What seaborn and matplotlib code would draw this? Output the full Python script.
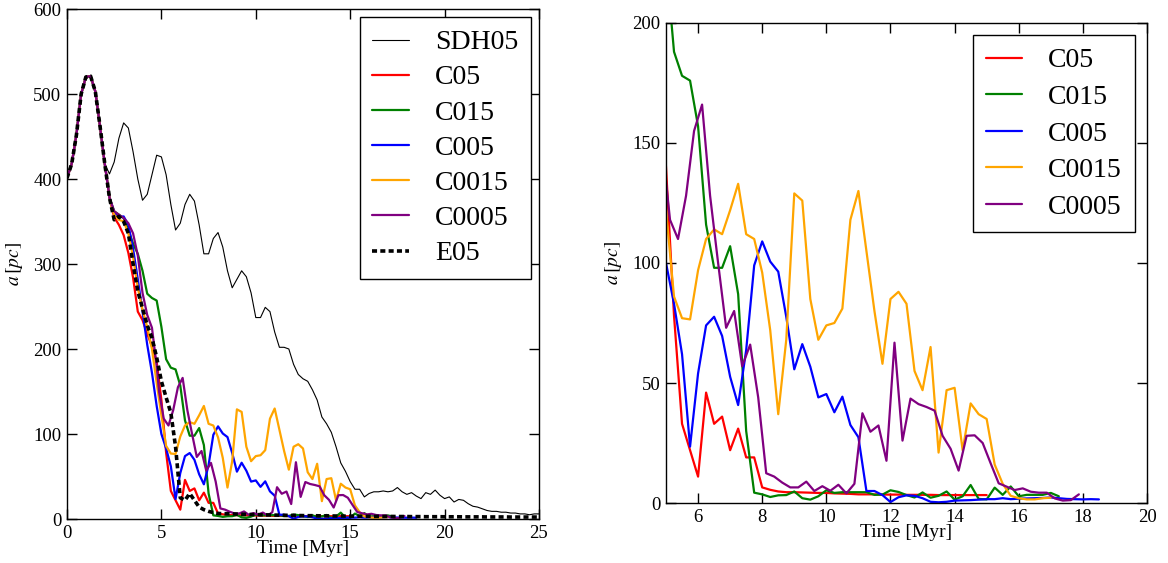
import numpy as np
import pandas as pd
import matplotlib
matplotlib.use("Agg")
import matplotlib.pyplot as plt
import seaborn as sns

# ---- data: separation a [pc] versus time [Myr] ----
DT = 0.25
COMMON = [401, 418, 452, 500, 520, 521, 503, 462, 418, 378]  # t = 0 .. 2.25

sdh05 = [401, 418, 452, 500, 520, 521, 503, 462, 418, 406,
         420, 448, 466, 460, 432, 400, 375, 382, 405, 428,
         426, 405, 370, 340, 348, 370, 382, 374, 346, 312,
         312, 330, 337, 320, 292, 272, 282, 292, 285, 266,
         237, 237, 249, 244, 220, 202, 202, 200, 182, 170,
         165, 162, 152, 140, 120, 112, 102, 85, 66, 56,
         44, 35, 35, 26, 30, 32, 32, 33, 32, 33,
         37, 32, 29, 31, 27, 24, 31, 29, 34, 28,
         24, 26, 20, 23, 22, 18, 15, 14, 12, 10,
         9, 9, 8, 8, 7, 7, 6, 6, 5, 6, 6]

c05 = COMMON + [355, 346, 334, 313, 284, 244, 234, 218, 203, 185,
                140, 78, 33, 22, 11, 46, 33, 36, 22, 31,
                19, 19, 6.5, 5.5, 4.8, 4.5, 4.5, 4.4, 4.3, 4.2,
                4.2, 4.0, 3.9, 3.8, 3.6, 3.6, 3.6, 3.5, 3.5, 3.5,
                3.4, 3.4, 3.4, 3.4, 3.3, 3.3, 3.3, 3.3, 3.3, 3.3,
                3.3]

c015 = COMMON + [362, 358, 354, 340, 324, 312, 292, 265, 260, 257,
                 226, 188, 178, 176, 157, 116, 98, 98, 107, 87,
                 30, 4.3, 3.6, 2.5, 3.2, 3.3, 4.8, 2.0, 1.4, 2.8,
                 5.3, 4.2, 4.5, 4.5, 4.5, 4.5, 3.4, 3.5, 5.3, 4.6,
                 3.3, 2.3, 4.4, 2.2, 3.0, 4.8, 1.4, 2.8, 7.5, 1.7,
                 1.5, 6.4, 3.4, 6.9, 2.8, 3.4, 3.4, 3.4, 4.2, 2.8]

c005 = COMMON + [360, 355, 356, 346, 318, 282, 244, 205, 172, 133,
                 100, 83, 62, 23.5, 54, 74, 77.6, 69.6, 52.6, 40.8,
                 63.7, 99, 109, 100.6, 96.4, 77.6, 55.7, 66.2, 56.8, 44,
                 45.4, 37.8, 44.3, 32.5, 27.4, 5, 5, 3.3, 0.4, 2.4,
                 3.2, 3, 2, 0.5, 0.3, 0.5, 1, 1.1, 1.2, 1.4,
                 1.6, 1.6, 2.0, 1.6, 1.8, 1.9, 2.0, 2.1, 2.3, 2.0,
                 1.7, 1.6, 1.5, 1.6, 1.5]

c0015 = COMMON + [358, 352, 350, 336, 308, 272, 246, 226, 200, 160,
                  122, 86, 77, 76.5, 97, 110, 114, 112, 122, 133,
                  112, 110, 96, 72, 37, 68, 129, 126, 85, 68,
                  74, 75, 81, 118, 130, 105, 80, 58, 85, 88,
                  83, 55, 47, 65, 21, 47, 48, 22, 41.5, 37,
                  35, 16, 8, 3, 2, 1.5, 1.5, 2, 2.2]

# C0005 switches to outputs at t = 4.875, 5.125, ... after 4.75 Myr
c0005_early = COMMON + [362, 358, 354, 348, 336, 310, 266, 240, 225, 180]
c0005_late = [150, 118, 110, 128, 155, 166, 128, 100, 73, 80,
              57, 66, 44, 12.4, 11, 8.5, 6.5, 6.5, 8.9, 5,
              7, 5.1, 7.6, 4, 8, 37.4, 29.7, 32.3, 17.6, 66.8,
              26, 43.5, 41.2, 40, 38.5, 28, 22.6, 13.5, 28, 28.2,
              25, 16.5, 8.2, 6.8, 5.4, 6.1, 4.7, 4.3, 4.3, 1.9,
              1, 1.2, 3.6]
C0005_LATE_START = 4.875

e05 = [401, 418, 452, 500, 520, 521, 503, 462, 418, 378,
       352, 356, 350, 336, 300, 268, 248, 228, 213, 190,
       162, 143, 125, 85, 25, 22, 30, 22, 14, 11,
       9, 7.5, 6.5, 6.3, 6.2, 6.0, 5.8, 5.6, 5.5, 5.3,
       5.2, 5.0, 4.9, 4.8, 4.6, 4.5, 4.4, 4.3, 4.2, 4.1,
       4.0, 3.9, 3.9, 3.8, 3.7, 3.7, 3.6, 3.5, 3.5, 3.4,
       3.4, 3.3, 3.3, 3.2, 3.2, 3.1, 3.1, 3.0, 3.0, 3.0,
       2.9, 2.9, 2.9, 2.8, 2.8, 2.8, 2.7, 2.7, 2.7, 2.7,
       2.6, 2.6, 2.6, 2.6, 2.5, 2.5, 2.5, 2.5, 2.5, 2.4,
       2.4, 2.4, 2.4, 2.4, 2.3, 2.3, 2.3, 2.3, 2.3, 2.3, 2.2]


def grid(n, start=0.0):
    return start + DT * np.arange(n)


def frame(times, values):
    return pd.DataFrame({"time": np.asarray(times, float), "a": np.asarray(values, float)})


t0005 = np.concatenate([grid(len(c0005_early)), grid(len(c0005_late), C0005_LATE_START)])

runs = {
    "SDH05": (frame(grid(len(sdh05)), sdh05), dict(color="black", lw=0.8, ls="-")),
    "C05": (frame(grid(len(c05)), c05), dict(color="red", lw=1.6, ls="-")),
    "C015": (frame(grid(len(c015)), c015), dict(color="green", lw=1.6, ls="-")),
    "C005": (frame(grid(len(c005)), c005), dict(color="blue", lw=1.6, ls="-")),
    "C0015": (frame(grid(len(c0015)), c0015), dict(color="orange", lw=1.6, ls="-")),
    "C0005": (frame(t0005, c0005_early + c0005_late), dict(color="purple", lw=1.6, ls="-")),
    "E05": (frame(grid(len(e05)), e05), dict(color="black", lw=2.6, ls=(0, (1.4, 0.9)))),
}

left_runs = ["SDH05", "C05", "C015", "C005", "C0015", "C0005", "E05"]
right_runs = ["C05", "C015", "C005", "C0015", "C0005"]

# ---- style ----
sns.set_theme(style="ticks")
plt.rcParams.update({
    "font.family": ["Liberation Serif", "DejaVu Serif"],
    "mathtext.fontset": "stix",
    "xtick.direction": "in",
    "ytick.direction": "in",
    "xtick.top": True,
    "ytick.right": True,
    "axes.edgecolor": "black",
    "axes.linewidth": 1.0,
    "xtick.color": "black",
    "ytick.color": "black",
    "text.color": "black",
    "axes.labelcolor": "black",
})

fig = plt.figure(figsize=(11.68, 5.63), dpi=100)
ax_l = fig.add_axes([0.05736, 0.07815, 0.40411, 0.90586])
ax_r = fig.add_axes([0.57021, 0.10657, 0.41182, 0.85258])


def draw(ax, names):
    for name in names:
        df, st = runs[name]
        sns.lineplot(data=df, x="time", y="a", ax=ax, color=st["color"],
                     linewidth=st["lw"], linestyle=st["ls"], label=name,
                     sort=False, estimator=None)


draw(ax_l, left_runs)
draw(ax_r, right_runs)

ax_l.set_xlim(0, 25)
ax_l.set_ylim(0, 600)
ax_l.set_xticks([0, 5, 10, 15, 20, 25])
ax_l.set_yticks([0, 100, 200, 300, 400, 500, 600])

ax_r.set_xlim(5, 20)
ax_r.set_ylim(0, 200)
ax_r.set_xticks([6, 8, 10, 12, 14, 16, 18, 20])
ax_r.set_yticks([0, 50, 100, 150, 200])

for ax in (ax_l, ax_r):
    ax.tick_params(which="major", length=7, width=1.0, labelsize=13.5, pad=4)
    ax.set_xlabel("Time [Myr]", fontsize=14, labelpad=-1)
    ax.set_ylabel(r"$a\,[pc]$", fontsize=14, labelpad=6)
    for sp in ax.spines.values():
        sp.set_visible(True)
        sp.set_color("black")

leg_kw = dict(loc="upper right", fontsize=20, frameon=True, fancybox=False,
              edgecolor="black", framealpha=1.0, handlelength=1.3,
              handletextpad=0.95, borderpad=0.45)
lg = ax_l.legend(borderaxespad=0.3, labelspacing=0.35, **leg_kw)
lg.get_frame().set_linewidth(1.0)
lg = ax_r.legend(borderaxespad=0.45, labelspacing=0.4, **leg_kw)
lg.get_frame().set_linewidth(1.0)

fig.savefig("out.png", dpi=100)
